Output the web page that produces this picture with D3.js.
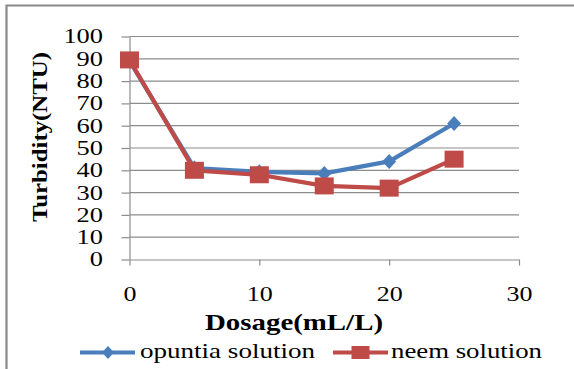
<!DOCTYPE html>
<html>
<head>
<meta charset="utf-8">
<script src="https://cdn.jsdelivr.net/npm/d3@7/dist/d3.min.js"></script>
<style>
  html, body { margin: 0; padding: 0; background: #fff; }
  svg { display: block; }
</style>
</head>
<body>
<svg id="chart" width="574" height="369"></svg>
<script>
// Turbidity remaining after coagulant dosing
const dosage = [0, 5, 10, 15, 20, 25];
const opuntia = [89, 41, 39.3, 38.6, 44, 61];
const neem = [89.5, 40, 38, 33, 32, 45];
const xTicks = [0, 10, 20, 30];
const yTicks = [0, 10, 20, 30, 40, 50, 60, 70, 80, 90, 100];
const seriesNames = ["opuntia solution", "neem solution"];

const FONT = "Liberation Serif";
const blue = "#4a7ebb";
const red = "#be4b48";
const gridColor = "#8c8c8c";

const svg = d3.select("#chart");

// outer frame (left and top edges)
svg.append("path")
  .attr("d", "M6.5,369 V5.5 H574")
  .attr("fill", "none")
  .attr("stroke", "#8a8a8a")
  .attr("stroke-width", 2.2);

const x = d3.scaleLinear().domain([0, 30]).range([129.5, 519]);
const y = d3.scaleLinear().domain([0, 100]).range([259.5, 36.5]);

// horizontal gridlines
svg.append("g")
  .selectAll("line")
  .data(yTicks.filter(v => v > 0))
  .join("line")
  .attr("x1", x(0)).attr("x2", x(30))
  .attr("y1", d => y(d)).attr("y2", d => y(d))
  .attr("stroke", gridColor)
  .attr("stroke-width", 1.2);

// y axis
const yAxis = svg.append("g")
  .attr("transform", `translate(${x(0)},0)`)
  .call(d3.axisLeft(y).tickValues(yTicks).tickSize(8).tickPadding(18).tickSizeOuter(0));
yAxis.attr("font-family", FONT);
yAxis.select(".domain").attr("stroke", gridColor).attr("stroke-width", 1.2);
yAxis.selectAll(".tick line").attr("stroke", gridColor).attr("stroke-width", 1.2);
yAxis.selectAll(".tick text")
  .attr("font-size", 20)
  .attr("font-family", FONT)
  .attr("fill", "#000")
  .attr("x", 103 - x(0))
  .attr("textLength", d => String(d).length * 13.2)
  .attr("lengthAdjust", "spacingAndGlyphs");

// x axis
const xAxis = svg.append("g")
  .attr("transform", `translate(0,${y(0)})`)
  .call(d3.axisBottom(x).tickValues(xTicks).tickSize(6).tickPadding(20).tickSizeOuter(0));
xAxis.attr("font-family", FONT);
xAxis.select(".domain").attr("stroke", gridColor).attr("stroke-width", 1.2);
xAxis.selectAll(".tick line").attr("stroke", gridColor).attr("stroke-width", 1.2);
xAxis.selectAll(".tick text")
  .attr("font-size", 20)
  .attr("font-family", FONT)
  .attr("fill", "#000")
  .attr("dy", 0)
  .attr("y", 301 - y(0))
  .attr("textLength", d => String(d).length * 13)
  .attr("lengthAdjust", "spacingAndGlyphs");

// axis titles
svg.append("text")
  .attr("transform", "translate(47,137) rotate(-90)")
  .attr("text-anchor", "middle")
  .attr("font-family", FONT)
  .attr("font-size", 21)
  .attr("font-weight", "bold")
  .attr("textLength", 170)
  .attr("lengthAdjust", "spacingAndGlyphs")
  .text("Turbidity(NTU)");

svg.append("text")
  .attr("x", 294).attr("y", 330)
  .attr("text-anchor", "middle")
  .attr("font-family", FONT)
  .attr("font-size", 24)
  .attr("font-weight", "bold")
  .attr("textLength", 178)
  .attr("lengthAdjust", "spacingAndGlyphs")
  .text("Dosage(mL/L)");

// series lines
const line = d3.line().x((d, i) => x(dosage[i])).y(d => y(d));

svg.append("path")
  .datum(opuntia)
  .attr("d", line)
  .attr("fill", "none")
  .attr("stroke", blue)
  .attr("stroke-width", 4.2)
  .attr("stroke-linejoin", "round");

svg.append("g")
  .selectAll("path")
  .data(opuntia)
  .join("path")
  .attr("transform", (d, i) => `translate(${x(dosage[i])},${y(d)})`)
  .attr("d", "M0,-7.5 L7,0 L0,7.5 L-7,0 Z")
  .attr("fill", blue);

svg.append("path")
  .datum(neem)
  .attr("d", line)
  .attr("fill", "none")
  .attr("stroke", red)
  .attr("stroke-width", 4.2)
  .attr("stroke-linejoin", "round");

svg.append("g")
  .selectAll("rect")
  .data(neem)
  .join("rect")
  .attr("x", (d, i) => x(dosage[i]) - 9.5)
  .attr("y", d => y(d) - 8.5)
  .attr("width", 19)
  .attr("height", 17)
  .attr("fill", red);

// legend
const legend = svg.append("g");
const ly = 352.5;

legend.append("line")
  .attr("x1", 80).attr("x2", 135).attr("y1", ly).attr("y2", ly)
  .attr("stroke", blue).attr("stroke-width", 4);
legend.append("path")
  .attr("transform", `translate(108,${ly})`)
  .attr("d", "M0,-6.5 L6,0 L0,6.5 L-6,0 Z")
  .attr("fill", blue);
legend.append("text")
  .attr("x", 140).attr("y", 357.5)
  .attr("font-family", FONT)
  .attr("font-size", 21)
  .attr("textLength", 175)
  .attr("lengthAdjust", "spacingAndGlyphs")
  .text(seriesNames[0]);

legend.append("line")
  .attr("x1", 333).attr("x2", 388).attr("y1", ly).attr("y2", ly)
  .attr("stroke", red).attr("stroke-width", 4);
legend.append("rect")
  .attr("x", 351.5).attr("y", ly - 6.5)
  .attr("width", 18).attr("height", 13)
  .attr("fill", red);
legend.append("text")
  .attr("x", 391).attr("y", 357.5)
  .attr("font-family", FONT)
  .attr("font-size", 21)
  .attr("textLength", 151)
  .attr("lengthAdjust", "spacingAndGlyphs")
  .text(seriesNames[1]);
</script>
</body>
</html>
